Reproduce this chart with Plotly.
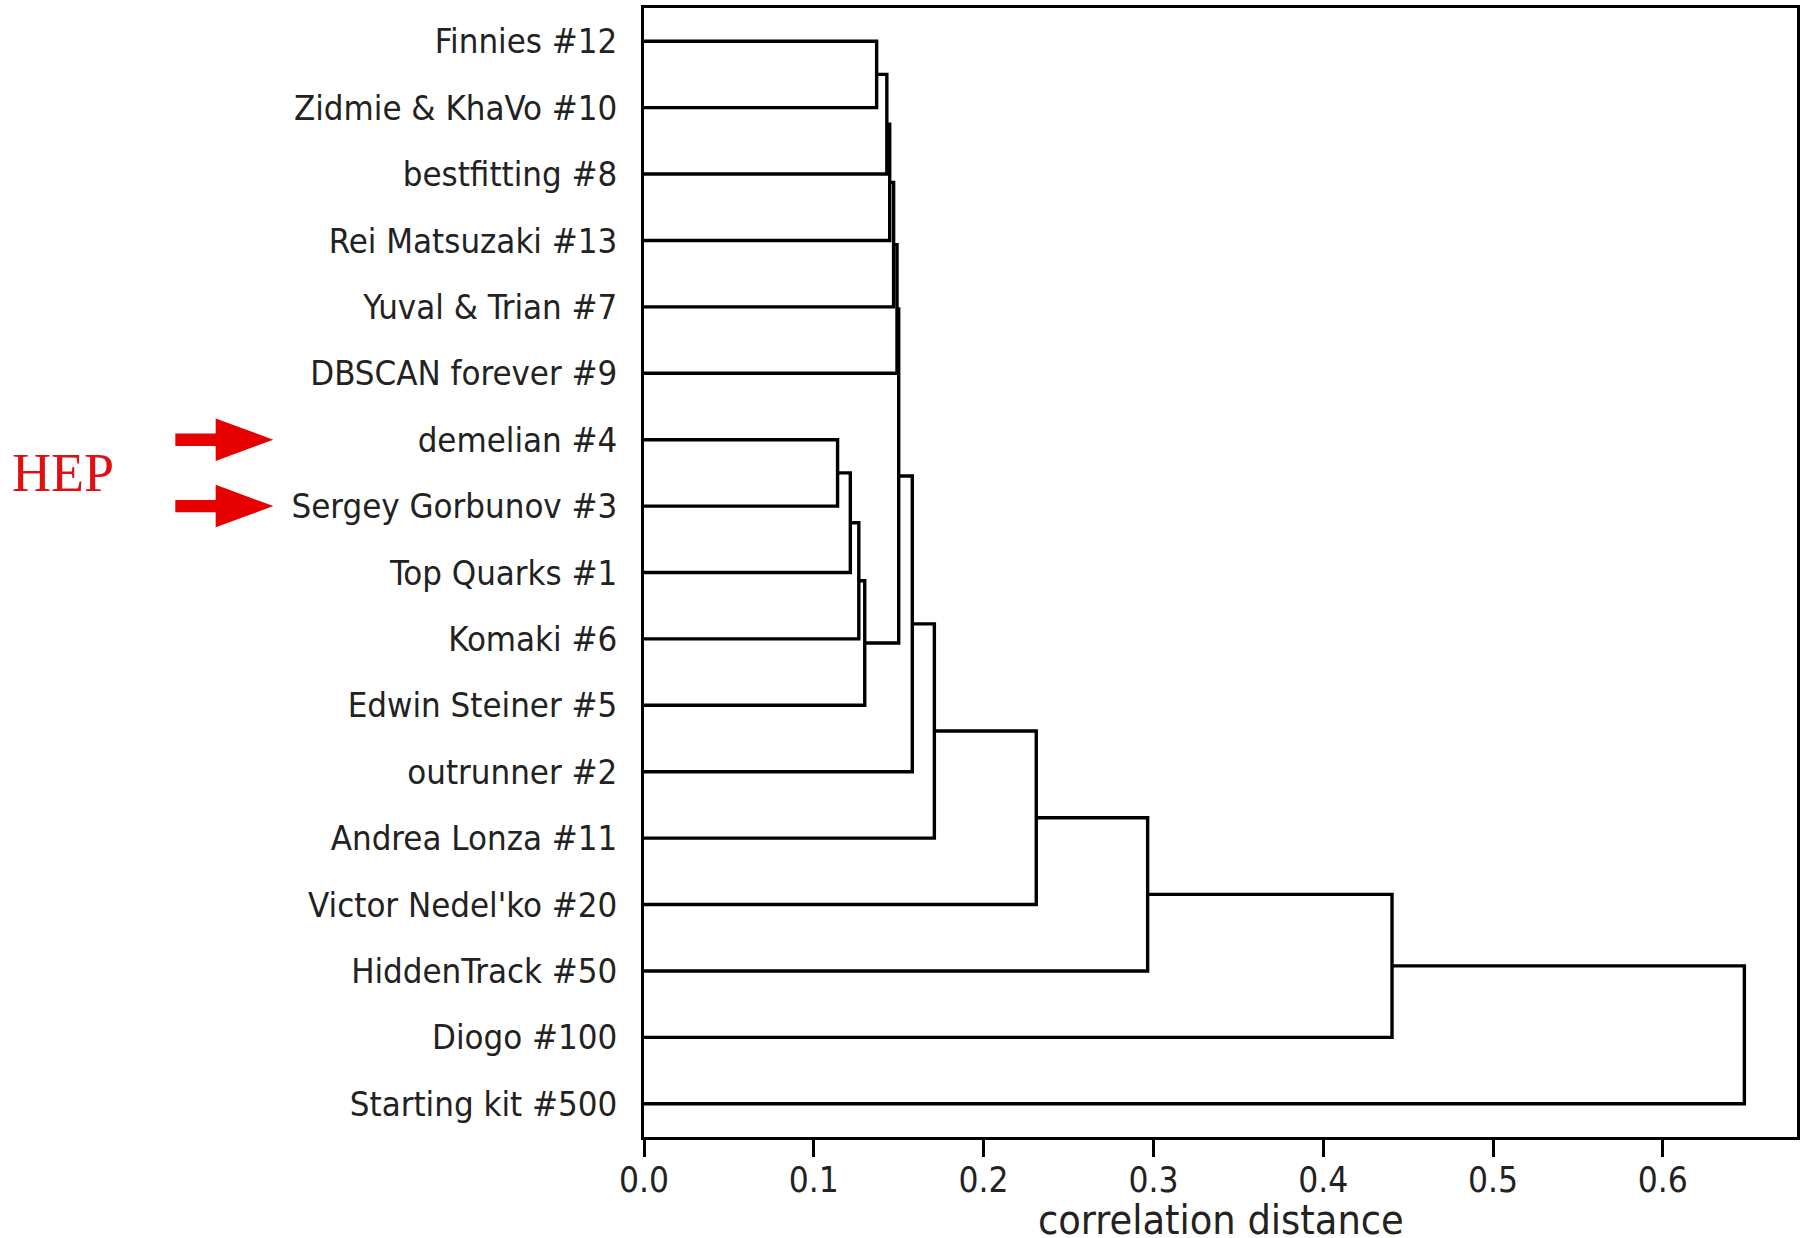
import plotly.graph_objects as go

# ---------------- data ----------------
labels = ["Finnies #12", "Zidmie & KhaVo #10", "bestfitting #8", "Rei Matsuzaki #13",
          "Yuval & Trian #7", "DBSCAN forever #9", "demelian #4", "Sergey Gorbunov #3",
          "Top Quarks #1", "Komaki #6", "Edwin Steiner #5", "outrunner #2",
          "Andrea Lonza #11", "Victor Nedel'ko #20", "HiddenTrack #50", "Diogo #100",
          "Starting kit #500"]

# linkage-style merges: leaves are 0..16, cluster k (0-based) gets index 17+k
merge_a = [6, 17, 18, 19, 0, 21, 22, 23, 24, 25, 26, 27, 28, 29, 30, 31]
merge_b = [7, 8, 9, 10, 1, 2, 3, 4, 5, 20, 11, 12, 13, 14, 15, 16]
merge_dist = [0.114, 0.1215, 0.1265, 0.130, 0.137, 0.143, 0.1447, 0.147,
              0.149, 0.150, 0.158, 0.171, 0.231, 0.2966, 0.4405, 0.648]

hep_labels = ["demelian #4", "Sergey Gorbunov #3"]
x_ticks = [0.0, 0.1, 0.2, 0.3, 0.4, 0.5, 0.6]

# ---------------- dendrogram geometry (scipy-style leaf spacing) ----------------
n = len(labels)
pos = [10 * (n - 1 - i) + 5 for i in range(n)]
height = [0.0] * n
xs, ys = [], []
for a, b, h in zip(merge_a, merge_b, merge_dist):
    xs += [height[a], h, h, height[b], None]
    ys += [pos[a], pos[a], pos[b], pos[b], None]
    pos.append((pos[a] + pos[b]) / 2)
    height.append(h)

y_max = 10 * n

fig = go.Figure()
fig.add_trace(go.Scatter(x=xs, y=ys, mode="lines",
                         line=dict(color="black", width=3.4),
                         hoverinfo="skip", showlegend=False))

# ---------------- HEP arrows + label ----------------
RED = "#e60000"
shapes = []
for lab in hep_labels:
    yc = pos[labels.index(lab)] / y_max
    x0, xb, xt = -0.4065, -0.3715, -0.3215
    hs, hh = 0.0055, 0.0188
    path = (f"M {x0},{yc - hs} L {xb},{yc - hs} L {xb},{yc - hh} L {xt},{yc} "
            f"L {xb},{yc + hh} L {xb},{yc + hs} L {x0},{yc + hs} Z")
    shapes.append(dict(type="path", xref="paper", yref="paper", path=path,
                       fillcolor=RED, line=dict(width=0)))

hep_y = sum(pos[labels.index(l)] for l in hep_labels) / len(hep_labels) / y_max

FONT = "DejaVu Sans Condensed, DejaVu Sans"
fig.update_layout(
    width=1801, height=1238,
    margin=dict(l=644, r=1, t=8, b=101),
    paper_bgcolor="white", plot_bgcolor="white",
    font=dict(family=FONT, color="#222222"),
    shapes=shapes,
    annotations=[
        dict(text="HEP", xref="paper", yref="paper", x=-0.5040, y=hep_y,
             xanchor="center", yanchor="middle", showarrow=False,
             font=dict(family="Liberation Serif", size=54, color="#e01010")),
        dict(text="correlation distance", xref="paper", yref="paper", x=0.5, y=-0.0735,
             xanchor="center", yanchor="middle", showarrow=False,
             font=dict(family=FONT, size=41, color="#222222")),
    ],
    xaxis=dict(range=[0, 0.679], tickvals=x_ticks,
               ticktext=[f"{v:.1f}" for v in x_ticks],
               ticks="outside", ticklen=17, tickwidth=2.5, tickcolor="black",
               showline=True, linewidth=2.5, linecolor="black", mirror=True,
               showgrid=False, zeroline=False, ticklabelstandoff=-7,
               tickfont=dict(size=35, family=FONT, color="#222222")),
    yaxis=dict(range=[0, y_max], tickvals=pos[:n], ticktext=labels,
               ticks="", showline=True, linewidth=2.5, linecolor="black", mirror=True,
               showgrid=False, zeroline=False, ticklabelstandoff=17,
               tickfont=dict(size=34.5, family=FONT, color="#222222")),
)

fig.write_html("out.html")
